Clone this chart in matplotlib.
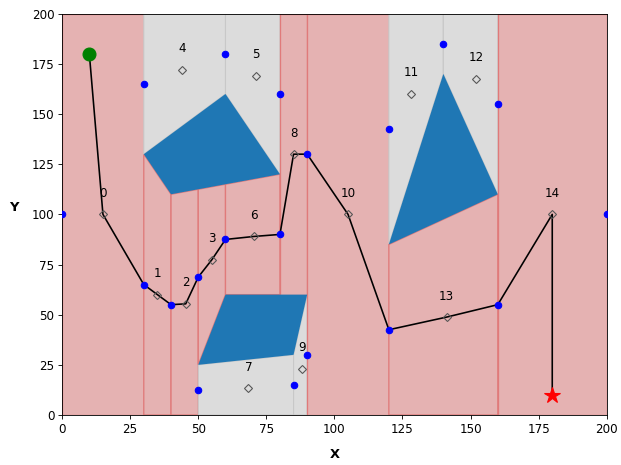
import matplotlib
matplotlib.use("Agg")
import matplotlib.pyplot as plt
from matplotlib.patches import Polygon

# ---------------- data ----------------
obstacle_a = [(30, 130), (60, 160), (80, 120), (40, 110)]
obstacle_b = [(50, 25), (60, 60), (90, 60), (85, 30)]
obstacle_c = [(120, 85), (140, 170), (160, 110)]
obstacles = [obstacle_a, obstacle_b, obstacle_c]

cells = [
    [(0, 0), (30, 0), (30, 200), (0, 200)],
    [(30, 0), (40, 0), (40, 110), (30, 130)],
    [(40, 0), (50, 0), (50, 112.5), (40, 110)],
    [(50, 25), (60, 60), (60, 115), (50, 112.5)],
    [(30, 130), (60, 160), (60, 200), (30, 200)],
    [(60, 160), (80, 120), (80, 200), (60, 200)],
    [(60, 60), (80, 60), (80, 120), (60, 115)],
    [(50, 0), (85, 0), (85, 30), (50, 25)],
    [(80, 60), (90, 60), (90, 200), (80, 200)],
    [(85, 0), (90, 0), (90, 60), (85, 30)],
    [(90, 0), (120, 0), (120, 200), (90, 200)],
    [(120, 85), (140, 170), (140, 200), (120, 200)],
    [(140, 170), (160, 110), (160, 200), (140, 200)],
    [(120, 0), (160, 0), (160, 110), (120, 85)],
    [(160, 0), (200, 0), (200, 200), (160, 200)],
]
path_cells = [0, 1, 2, 3, 6, 8, 10, 13, 14]

centroid_x = [15, 35, 45.4, 55, 44, 71.3, 70.5, 68.4, 85, 88, 105, 128.3, 152, 141.2, 180]
centroid_y = [100, 60, 55.4, 77.4, 172, 169, 89, 13.4, 130, 23, 100, 160, 167.6, 48.8, 100]

edge_x = [0, 30, 30, 40, 50, 50, 60, 60, 80, 80, 85, 90, 90, 120, 120, 140, 160, 160, 200]
edge_y = [100, 165, 65, 55, 68.75, 12.5, 180, 87.5, 160, 90, 15, 130, 30, 142.5, 42.5, 185, 155, 55, 100]

path_x = [10, 15, 30, 35, 40, 45.4, 50, 55, 60, 70.5, 80, 85, 90, 105, 120, 141.2, 160, 180, 180]
path_y = [180, 100, 65, 60, 55, 55.4, 68.75, 77.4, 87.5, 89, 90, 130, 130, 100, 42.5, 48.8, 55, 100, 10]

start = (10, 180)
goal = (180, 10)

ticks = [0, 25, 50, 75, 100, 125, 150, 175, 200]

# ---------------- plot ----------------
dpi = 621 / 8
fig = plt.figure(figsize=(8, 465 / dpi), dpi=dpi)
ax = fig.add_axes([0.1, 0.1075, 0.877, 0.863])

for i, verts in enumerate(cells):
    if i in path_cells:
        poly = Polygon(verts, closed=True, facecolor="#e5b2b2", edgecolor="#e07a7a",
                       linewidth=1.2, zorder=1)
    else:
        poly = Polygon(verts, closed=True, facecolor="#dcdcdc", edgecolor="#c8c8c8",
                       linewidth=1.0, zorder=1)
    ax.add_patch(poly)

for obs in obstacles:
    ax.add_patch(Polygon(obs, closed=True, facecolor="#1f77b4", edgecolor="none", zorder=2))

ax.plot(path_x, path_y, color="black", linewidth=1.5, zorder=3)
ax.plot(edge_x, edge_y, linestyle="none", marker="o", color="blue", markersize=6, zorder=4)
ax.plot(centroid_x, centroid_y, linestyle="none", marker="D", markersize=5,
        markerfacecolor="none", markeredgecolor="#555555", markeredgewidth=1.0, zorder=4)
for i, (cx, cy) in enumerate(zip(centroid_x, centroid_y)):
    ax.text(cx, cy + 10.5, str(i), ha="center", va="center", fontsize=11, zorder=5)

ax.plot(*start, marker="o", color="green", markersize=12, linestyle="none", zorder=5)
ax.plot(*goal, marker="*", color="red", markersize=15, linestyle="none", zorder=5)

ax.set_xlim(0, 200)
ax.set_ylim(0, 200)
ax.set_xticks(ticks)
ax.set_yticks(ticks)
ax.tick_params(labelsize=11)
ax.set_xlabel("X", fontsize=12, fontweight="bold", labelpad=12)
ax.set_ylabel("Y", fontsize=12, fontweight="bold", rotation=0, labelpad=17)

fig.savefig("out.png", dpi=dpi)
